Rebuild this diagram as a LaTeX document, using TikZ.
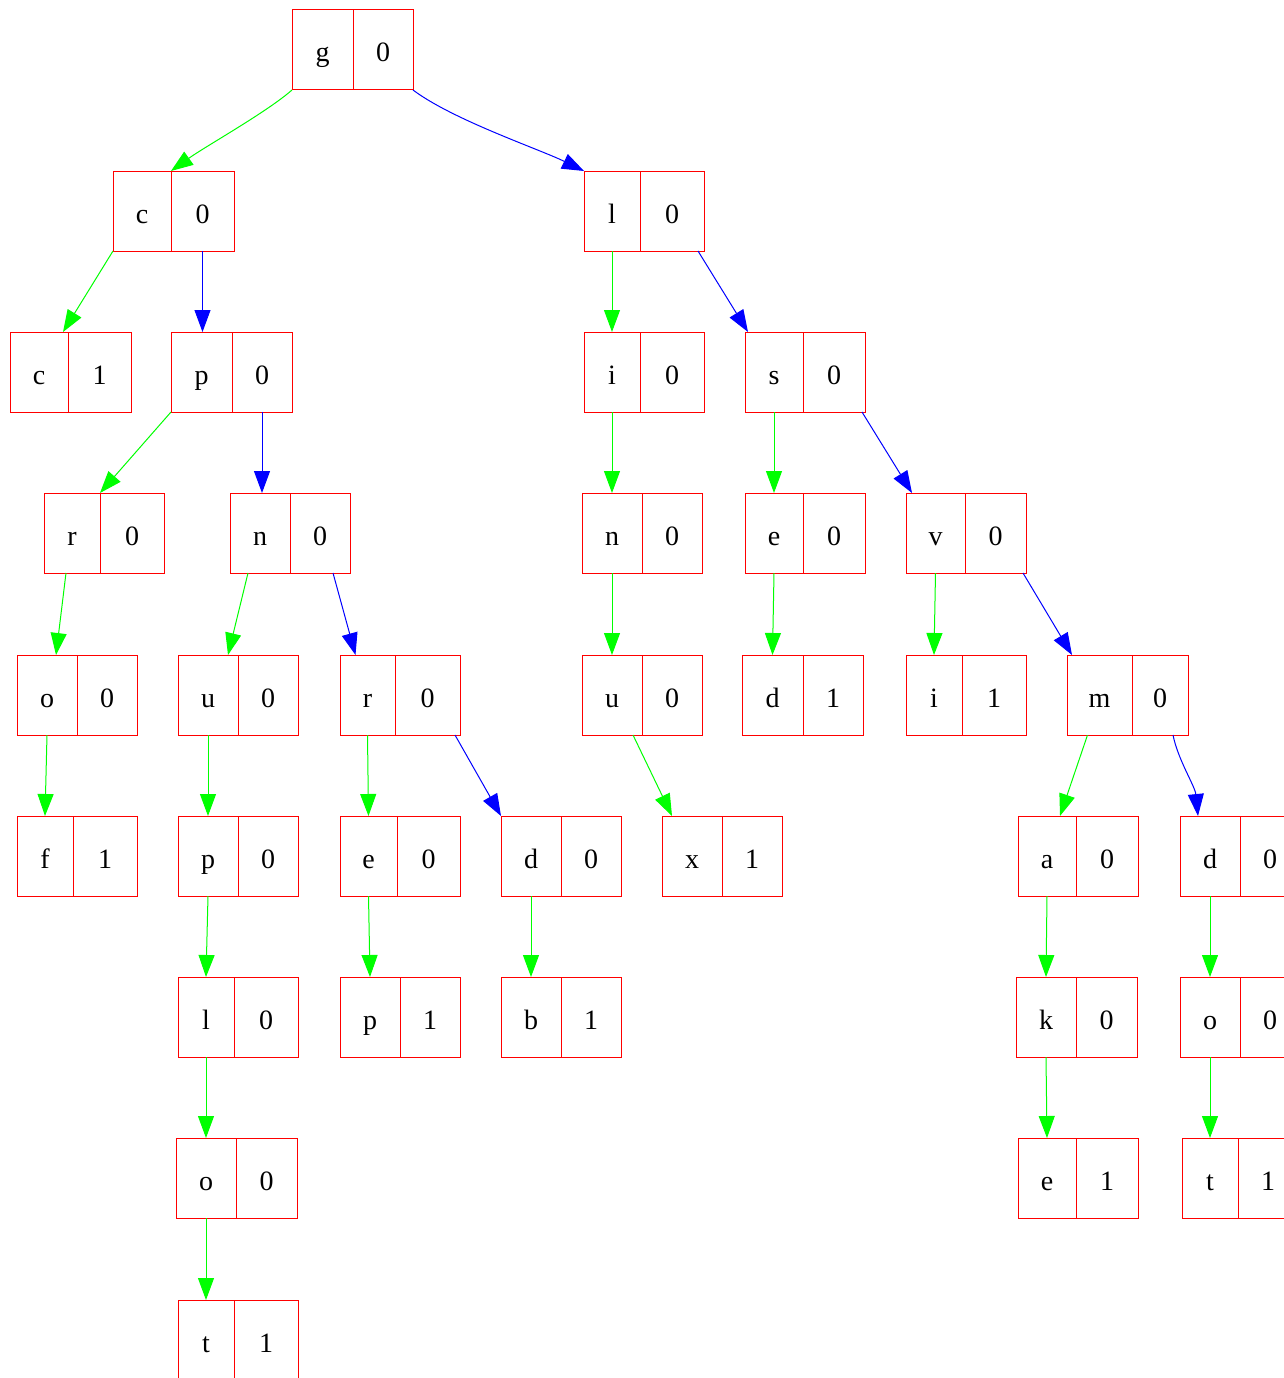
\documentclass[tikz,border=0pt]{standalone}
\usepackage{fontspec}
\setmainfont{Liberation Serif}
\usetikzlibrary{arrows.meta}
\tikzset{cell/.style={draw=red,line width=1pt,inner sep=0pt,outer sep=0pt,anchor=north west,
  minimum height=80pt,text height=27pt,text depth=3pt,font=\fontsize{28}{32}\selectfont},
 childedge/.style={green,line width=1pt,-{Triangle[length=22pt,width=16pt]}},
 siblingedge/.style={childedge,blue}}
\begin{document}
\begin{tikzpicture}[x=1pt,y=-1pt]
\useasboundingbox (0,0) rectangle (1284,1378);
\clip (0,0) rectangle (1284,1378);
% records: name/left/split/right/top/letter/count
\foreach \nm/\l/\d/\r/\t/\k/\c in {g1/292/353/413/10/g/0,
  c2/113/171/234/171/c/0, l2/584/640/704/171/l/0,
  c3/10/68/131/332/c/1, p3/171/232/292/332/p/0, i3/584/640/704/332/i/0, s3/745/803/865/332/s/0,
  r4/44/100/164/493/r/0, n4a/230/290/350/493/n/0, n4b/582/642/702/493/n/0, e4/745/803/865/493/e/0, v4/906/965/1026/493/v/0,
  o5/17/77/137/655/o/0, u5a/178/238/298/655/u/0, r5/340/395/460/655/r/0, u5b/582/642/702/655/u/0, d5/742/803/863/655/d/1, i5/906/962/1026/655/i/1, m5/1067/1132/1188/655/m/0,
  f6/17/73/137/816/f/1, p6/178/238/298/816/p/0, e6/340/397/460/816/e/0, d6a/501/561/621/816/d/0, x6/662/722/782/816/x/1, a6/1018/1076/1138/816/a/0, d6b/1180/1240/1300/816/d/0,
  l7/178/234/298/977/l/0, p7/340/400/460/977/p/1, b7/501/561/621/977/b/1, k7/1016/1076/1137/977/k/0, o7/1180/1240/1300/977/o/0,
  o8/176/236/297/1138/o/0, e8/1018/1076/1138/1138/e/1, t8/1182/1238/1298/1138/t/1,
  t9/178/234/298/1300/t/1}
{
  \node[cell,minimum width={(\d-\l)*1pt}] (\nm) at (\l,\t) {\k};
  \node[cell,minimum width={(\r-\d)*1pt}] (\nm-n) at (\d,\t) {\c};
}
% green: next letter, blue: alternative
\draw[childedge] (g1.south west) .. controls +(-25,22) and +(35,-25) .. (c2.north east);
\draw[siblingedge] (g1-n.south east) .. controls +(40,30) and +(-45,-22) .. (l2.north west);
\draw[childedge] (c2.south west) -- ([xshift=-5]c3.north east);
\draw[siblingedge] (c2-n.south) -- (c2-n.south |- p3.north);
\draw[childedge] (p3.south west) -- (r4.north east);
\draw[siblingedge] (p3-n.south) -- (p3-n.south |- n4a.north);
\draw[childedge] ([xshift=-6]r4.south) -- ([xshift=9]o5.north);
\draw[childedge] (o5.south) -- (f6.north);
\draw[childedge] ([xshift=-12]n4a.south) -- ([xshift=20]u5a.north);
\draw[siblingedge] ([xshift=13]n4a-n.south) -- ([xshift=-12]r5.north);
\draw[childedge] (u5a.south) -- (p6.north);
\draw[childedge] (p6.south) -- (l7.north);
\draw[childedge] (l7.south) -- (o8.north);
\draw[childedge] (o8.south) -- (t9.north);
\draw[childedge] (r5.south) -- (e6.north);
\draw[siblingedge] ([xshift=-5]r5-n.south east) -- (d6a.north west);
\draw[childedge] (e6.south) -- (p7.north);
\draw[childedge] (d6a.south) -- (b7.north);
\draw[childedge] (l2.south) -- (i3.north);
\draw[siblingedge] ([xshift=-6]l2-n.south east) -- ([xshift=3]s3.north west);
\draw[childedge] (i3.south) -- (n4b.north);
\draw[childedge] (n4b.south) -- (u5b.north);
\draw[childedge] ([xshift=21]u5b.south) -- ([xshift=-20]x6.north);
\draw[childedge] (s3.south) -- (e4.north);
\draw[siblingedge] ([xshift=-3]s3-n.south east) -- ([xshift=6]v4.north west);
\draw[childedge] (e4.south) -- (d5.north);
\draw[childedge] (v4.south) -- (i5.north);
\draw[siblingedge] ([xshift=-3]v4-n.south east) -- ([xshift=5]m5.north west);
\draw[childedge] ([xshift=-12]m5.south) -- ([xshift=13]a6.north);
\draw[siblingedge] ([xshift=13]m5-n.south) .. controls +(5,25) and +(-3,-30) .. ([xshift=-12]d6b.north);
\draw[childedge] (a6.south) -- (k7.north);
\draw[childedge] (k7.south) -- (e8.north);
\draw[childedge] (d6b.south) -- (o7.north);
\draw[childedge] (o7.south) -- (t8.north);
\end{tikzpicture}
\end{document}
